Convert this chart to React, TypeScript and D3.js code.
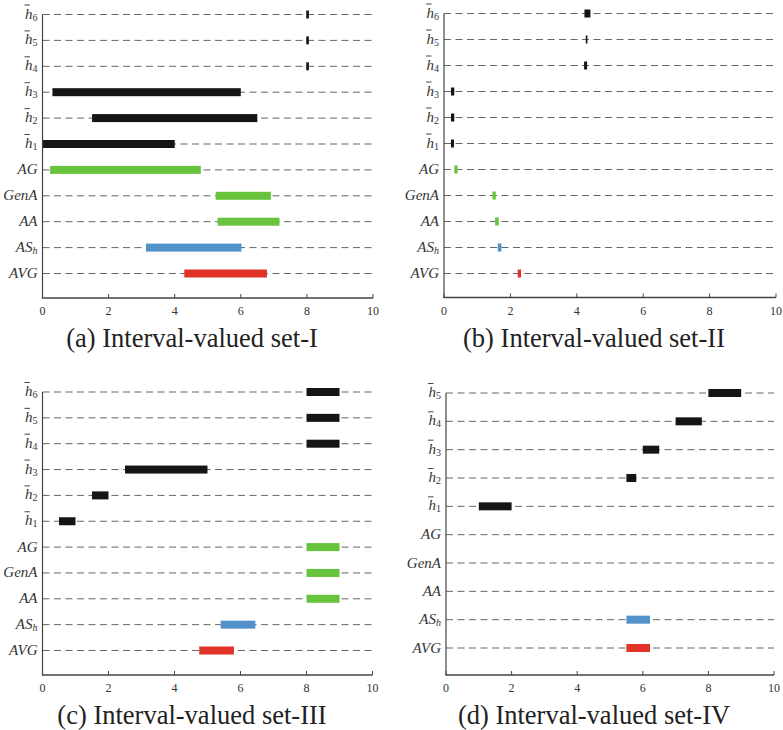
import React, { useEffect, useRef } from 'react';
import * as d3 from 'd3';

// row keys, top to bottom
const rowsSetA = ['h6', 'h5', 'h4', 'h3', 'h2', 'h1', 'AG', 'GenA', 'AA', 'ASh', 'AVG'];
const rowsSetD = ['h5', 'h4', 'h3', 'h2', 'h1', 'AG', 'GenA', 'AA', 'ASh', 'AVG'];
const xTicks = [0, 2, 4, 6, 8, 10];

// intervals [lower, upper] per row, null = nothing drawn
const setI = [
  [7.98, 8.06], [7.98, 8.06], [7.98, 8.06], [0.3, 6.0], [1.5, 6.5], [0, 4.0],
  [0.23, 4.79], [5.24, 6.91], [5.3, 7.17], [3.13, 6.02], [4.29, 6.79]
];
const setII = [
  [4.23, 4.41], [4.27, 4.32], [4.22, 4.31], [0.21, 0.31], [0.21, 0.31], [0.21, 0.3],
  [0.31, 0.41], [1.46, 1.56], [1.54, 1.65], [1.62, 1.73], [2.22, 2.32]
];
const setIII = [
  [8, 9], [8, 9], [8, 9], [2.5, 5.0], [1.5, 2.0], [0.5, 1.0],
  [8, 9], [8, 9], [8, 9], [5.4, 6.45], [4.75, 5.8]
];
const setIV = [
  [8, 9], [7, 7.8], [6, 6.5], [5.5, 5.8], [1, 2],
  null, null, null, [5.5, 6.22], [5.5, 6.22]
];
const captions = [
  '(a) Interval-valued set-I',
  '(b) Interval-valued set-II',
  '(c) Interval-valued set-III',
  '(d) Interval-valued set-IV'
];

const colorFor = (key: string) => {
  if (key.startsWith('h')) return '#151515';
  if (key === 'ASh') return '#5291c9';
  if (key === 'AVG') return '#e03226';
  return '#68c43d';
};

const serif = '"Liberation Serif", "Times New Roman", "DejaVu Serif", serif';

const App = () => {
  const svgRef = useRef<SVGSVGElement>(null);

  useEffect(() => {
    const svg = d3.select(svgRef.current);
    svg.selectAll('*').remove();

    const panels = [
      { rows: rowsSetA, data: setI, x: [42.5, 373], y: [14.5, 273.5], axisY: 298, cx: 192, caption: captions[0] },
      { rows: rowsSetA, data: setII, x: [444, 776], y: [13.5, 273.5], axisY: 297.5, cx: 594, caption: captions[1] },
      { rows: rowsSetA, data: setIII, x: [42.5, 372.5], y: [392, 650.5], axisY: 675, cx: 192, caption: captions[2] },
      { rows: rowsSetD, data: setIV, x: [446, 774], y: [393, 648], axisY: 675, cx: 594, caption: captions[3] }
    ];

    panels.forEach(p => {
      const g = svg.append('g');
      const xScale = d3.scaleLinear().domain([0, 10]).range(p.x);
      const yScale = d3.scalePoint<string>().domain(p.rows).range(p.y);

      // dashed guide lines
      g.selectAll('.guide')
        .data(p.rows)
        .enter().append('line')
        .attr('x1', xScale(0))
        .attr('x2', xScale(10))
        .attr('y1', d => yScale(d)!)
        .attr('y2', d => yScale(d)!)
        .attr('stroke', '#666')
        .attr('stroke-width', 1)
        .attr('stroke-dasharray', '7,4.5');

      // interval bars
      const bars = p.rows
        .map((key, i) => ({ key, iv: p.data[i] }))
        .filter(d => d.iv);
      g.selectAll('.bar')
        .data(bars)
        .enter().append('rect')
        .attr('x', d => xScale(d.iv![0]))
        .attr('width', d => Math.max(1.5, xScale(d.iv![1]) - xScale(d.iv![0])))
        .attr('y', d => yScale(d.key)! - 4)
        .attr('height', 8)
        .attr('fill', d => colorFor(d.key));

      // axes lines
      g.append('line')
        .attr('x1', xScale(0)).attr('x2', xScale(0))
        .attr('y1', p.y[0]).attr('y2', p.axisY)
        .attr('stroke', '#444').attr('stroke-width', 1.2);
      g.append('line')
        .attr('x1', xScale(0) - 0.6).attr('x2', xScale(10))
        .attr('y1', p.axisY).attr('y2', p.axisY)
        .attr('stroke', '#444').attr('stroke-width', 1.6);

      // x ticks
      g.selectAll('.tick')
        .data(xTicks)
        .enter().append('line')
        .attr('x1', d => xScale(d)).attr('x2', d => xScale(d))
        .attr('y1', p.axisY).attr('y2', p.axisY - 4)
        .attr('stroke', '#444').attr('stroke-width', 1);
      g.selectAll('.tickLabel')
        .data(xTicks)
        .enter().append('text')
        .attr('x', d => xScale(d))
        .attr('y', p.axisY + 17)
        .attr('text-anchor', 'middle')
        .attr('font-family', serif)
        .attr('font-size', 12)
        .attr('fill', '#333')
        .text(d => d);

      // row labels
      p.rows.forEach(key => {
        const y = yScale(key)!;
        const right = xScale(0) - 5;
        if (key.startsWith('h')) {
          const t = g.append('text')
            .attr('x', right).attr('y', y + 4)
            .attr('text-anchor', 'end')
            .attr('font-family', serif)
            .attr('fill', '#333');
          t.append('tspan').attr('font-style', 'italic').attr('font-size', 15).text('h');
          t.append('tspan').attr('font-size', 10).attr('dy', 2).text(key.slice(1));
          g.append('line')
            .attr('x1', right - 13).attr('x2', right - 7.5)
            .attr('y1', y - 9.5).attr('y2', y - 9.5)
            .attr('stroke', '#333').attr('stroke-width', 0.9);
        } else if (key === 'ASh') {
          const t = g.append('text')
            .attr('x', right).attr('y', y + 4.5)
            .attr('text-anchor', 'end')
            .attr('font-family', serif)
            .attr('font-style', 'italic')
            .attr('fill', '#333');
          t.append('tspan').attr('font-size', 15).text('AS');
          t.append('tspan').attr('font-size', 10).attr('dy', 2).text('h');
        } else {
          g.append('text')
            .attr('x', right).attr('y', y + 4.5)
            .attr('text-anchor', 'end')
            .attr('font-family', serif)
            .attr('font-style', 'italic')
            .attr('font-size', 15)
            .attr('fill', '#333')
            .text(key);
        }
      });

      // caption
      g.append('text')
        .attr('x', p.cx)
        .attr('y', p.axisY + 49)
        .attr('text-anchor', 'middle')
        .attr('font-family', serif)
        .attr('font-size', 26.5)
        .attr('fill', '#222')
        .text(p.caption);
    });
  }, []);

  return (
    <svg
      ref={svgRef}
      width={783}
      height={730}
      style={{ position: 'absolute', left: 0, top: 0, background: '#fff' }}
    />
  );
};

export default App;
